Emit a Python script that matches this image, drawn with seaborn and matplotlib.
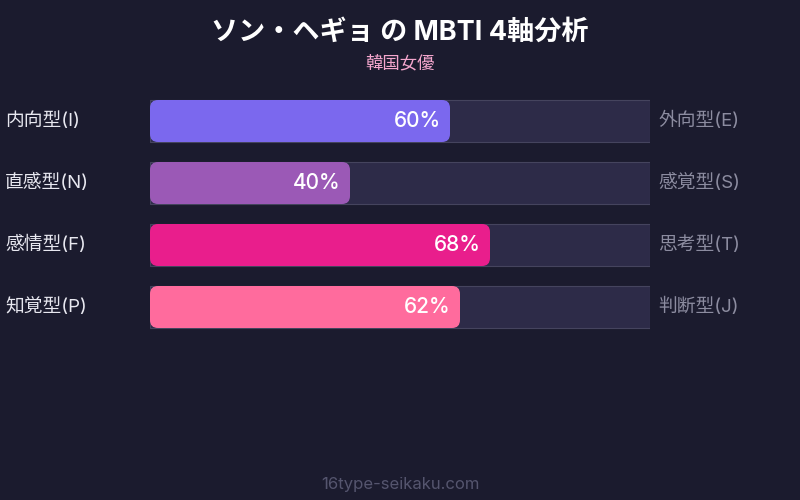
import numpy as np
import pandas as pd
import matplotlib
matplotlib.use('Agg')
import matplotlib.pyplot as plt
import matplotlib.transforms as mtransforms
from matplotlib.patches import FancyBboxPatch
import seaborn as sns

# chart data
left_labels = ['内向型(I)', '直感型(N)', '感情型(F)', '知覚型(P)']
right_labels = ['外向型(E)', '感覚型(S)', '思考型(T)', '判断型(J)']
values = [60, 40, 68, 62]
bar_colors = ['#7b68ee', '#9b59b6', '#e91e8c', '#ff6b9d']

title = 'ソン・ヘギョ の MBTI 4軸分析'
subtitle = '韓国女優'
footer = '16type-seikaku.com'

BG = '#1b1b2e'
TRACK = '#2d2b48'
TRACK_EDGE = '#45445e'

sns.set_theme(style='white')
plt.rcParams['font.family'] = ['Inter', 'Noto Sans CJK JP', 'DejaVu Sans']

df = pd.DataFrame({'axis': left_labels, 'value': values, 'full': [100] * len(values)})

fig = plt.figure(figsize=(8, 5), dpi=100, facecolor=BG)
# axes: x 150..650 px, rows 62 px apart
ax = fig.add_axes([150 / 800, 1 - 338 / 500, 500 / 800, 248 / 500])
ax.set_facecolor(BG)

bar_w = 42 / 62
sns.barplot(data=df, y='axis', x='full', orient='h', color=TRACK, saturation=1,
            width=bar_w, ax=ax)
n_track = len(ax.patches)
sns.barplot(data=df, y='axis', x='value', orient='h', hue='axis', palette=bar_colors,
            saturation=1, width=bar_w, legend=False, ax=ax)

ax.set_xlim(0, 100)
ax.set_ylim(3.5, -0.5)

# swap plain rectangles for rounded ones
x_px = 500 / 100
y_px = 62
for k, p in enumerate(list(ax.patches)):
    x0, y0 = p.get_x(), p.get_y()
    w, h = p.get_width(), p.get_height()
    fc = p.get_facecolor()
    p.remove()
    if k < n_track:
        box = FancyBboxPatch((x0, y0), w, h, boxstyle='square,pad=0',
                             facecolor=fc, edgecolor=TRACK_EDGE, linewidth=0.8, zorder=1)
    else:
        r = 8 / x_px
        box = FancyBboxPatch((x0, y0), w, h, boxstyle=f'round,pad=0,rounding_size={r}',
                             mutation_aspect=(x_px / y_px),
                             facecolor=fc, edgecolor='none', zorder=2)
    ax.add_patch(box)

ax.set_xlabel('')
ax.set_ylabel('')
ax.set_xticks([])
ax.set_yticks([])
for s in ax.spines.values():
    s.set_visible(False)

# percentage labels inside bar ends
for i, v in enumerate(values):
    ax.text(v - 9 / x_px, i, f'{v}%', ha='right', va='center', color='white',
            fontsize=15, fontweight='medium', zorder=3)

# side labels
trans = mtransforms.blended_transform_factory(fig.transFigure, ax.transData)
for i, (lt, rt) in enumerate(zip(left_labels, right_labels)):
    ax.text(5 / 800, i, lt, transform=trans, ha='left', va='center',
            color='#e8e8f0', fontsize=13.5)
    ax.text(658 / 800, i, rt, transform=trans, ha='left', va='center',
            color='#8c8ca0', fontsize=13.5)

fig.text(0.5, 1 - 33 / 500, title, ha='center', va='center', color='white',
         fontsize=19.5, fontweight='bold')
fig.text(0.5, 1 - 64 / 500, subtitle, ha='center', va='center', color='#f4a6cd',
         fontsize=12.5)
fig.text(0.5, 1 - 484 / 500, footer, ha='center', va='center', color='#55556e',
         fontsize=12)

fig.savefig('out.png', dpi=100, facecolor=BG)
